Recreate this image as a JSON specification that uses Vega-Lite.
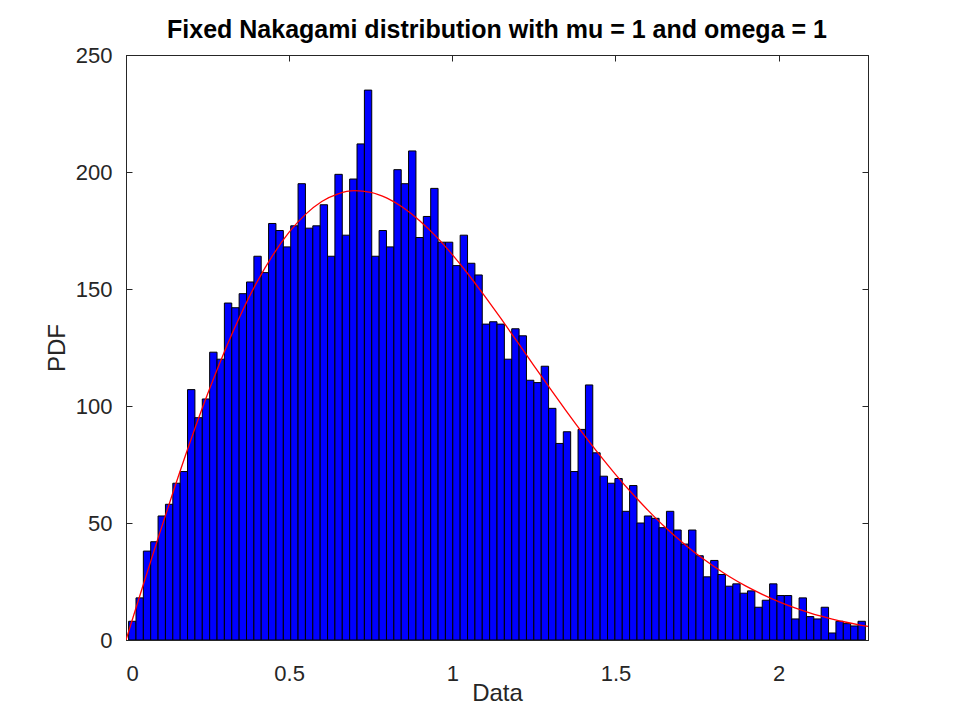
{
  "$schema": "https://vega.github.io/schema/vega-lite/v6.json",
  "background": "white",
  "autosize": "none",
  "padding": {"left": 126, "top": 55, "right": 92, "bottom": 80},
  "width": 742,
  "height": 585,
  "title": {
    "text": "Fixed Nakagami distribution with mu = 1 and omega = 1",
    "font": "Liberation Sans",
    "fontSize": 25,
    "fontWeight": "bold",
    "color": "#000000",
    "anchor": "middle",
    "baseline": "alphabetic",
    "offset": -19
  },
  "config": {
    "view": {"stroke": "#262626", "strokeWidth": 1},
    "axis": {
      "grid": false,
      "labelFont": "Liberation Sans",
      "labelFontSize": 22,
      "labelColor": "#262626",
      "titleFont": "Liberation Sans",
      "titleFontSize": 24,
      "titleFontWeight": "normal",
      "titleColor": "#262626",
      "domainColor": "#262626",
      "tickColor": "#262626",
      "tickSize": -6
    }
  },
  "datasets": {
    "bins": [
      {"x0": 0.0080, "x1": 0.0306, "count": 8},
      {"x0": 0.0306, "x1": 0.0532, "count": 18},
      {"x0": 0.0532, "x1": 0.0757, "count": 38},
      {"x0": 0.0757, "x1": 0.0983, "count": 42},
      {"x0": 0.0983, "x1": 0.1209, "count": 53},
      {"x0": 0.1209, "x1": 0.1435, "count": 58},
      {"x0": 0.1435, "x1": 0.1661, "count": 67},
      {"x0": 0.1661, "x1": 0.1886, "count": 72},
      {"x0": 0.1886, "x1": 0.2112, "count": 107},
      {"x0": 0.2112, "x1": 0.2338, "count": 95},
      {"x0": 0.2338, "x1": 0.2564, "count": 103},
      {"x0": 0.2564, "x1": 0.2790, "count": 123},
      {"x0": 0.2790, "x1": 0.3015, "count": 120},
      {"x0": 0.3015, "x1": 0.3241, "count": 144},
      {"x0": 0.3241, "x1": 0.3467, "count": 142},
      {"x0": 0.3467, "x1": 0.3693, "count": 148},
      {"x0": 0.3693, "x1": 0.3919, "count": 153},
      {"x0": 0.3919, "x1": 0.4144, "count": 164},
      {"x0": 0.4144, "x1": 0.4370, "count": 157},
      {"x0": 0.4370, "x1": 0.4596, "count": 178},
      {"x0": 0.4596, "x1": 0.4822, "count": 175},
      {"x0": 0.4822, "x1": 0.5048, "count": 168},
      {"x0": 0.5048, "x1": 0.5273, "count": 177},
      {"x0": 0.5273, "x1": 0.5499, "count": 195},
      {"x0": 0.5499, "x1": 0.5725, "count": 176},
      {"x0": 0.5725, "x1": 0.5951, "count": 177},
      {"x0": 0.5951, "x1": 0.6177, "count": 186},
      {"x0": 0.6177, "x1": 0.6402, "count": 164},
      {"x0": 0.6402, "x1": 0.6628, "count": 199},
      {"x0": 0.6628, "x1": 0.6854, "count": 173},
      {"x0": 0.6854, "x1": 0.7080, "count": 197},
      {"x0": 0.7080, "x1": 0.7306, "count": 212},
      {"x0": 0.7306, "x1": 0.7531, "count": 235},
      {"x0": 0.7531, "x1": 0.7757, "count": 164},
      {"x0": 0.7757, "x1": 0.7983, "count": 175},
      {"x0": 0.7983, "x1": 0.8209, "count": 168},
      {"x0": 0.8209, "x1": 0.8435, "count": 201},
      {"x0": 0.8435, "x1": 0.8660, "count": 195},
      {"x0": 0.8660, "x1": 0.8886, "count": 209},
      {"x0": 0.8886, "x1": 0.9112, "count": 172},
      {"x0": 0.9112, "x1": 0.9338, "count": 181},
      {"x0": 0.9338, "x1": 0.9564, "count": 193},
      {"x0": 0.9564, "x1": 0.9789, "count": 170},
      {"x0": 0.9789, "x1": 1.0015, "count": 170},
      {"x0": 1.0015, "x1": 1.0241, "count": 160},
      {"x0": 1.0241, "x1": 1.0467, "count": 173},
      {"x0": 1.0467, "x1": 1.0693, "count": 161},
      {"x0": 1.0693, "x1": 1.0918, "count": 156},
      {"x0": 1.0918, "x1": 1.1144, "count": 135},
      {"x0": 1.1144, "x1": 1.1370, "count": 136},
      {"x0": 1.1370, "x1": 1.1596, "count": 135},
      {"x0": 1.1596, "x1": 1.1822, "count": 120},
      {"x0": 1.1822, "x1": 1.2047, "count": 133},
      {"x0": 1.2047, "x1": 1.2273, "count": 130},
      {"x0": 1.2273, "x1": 1.2499, "count": 111},
      {"x0": 1.2499, "x1": 1.2725, "count": 110},
      {"x0": 1.2725, "x1": 1.2951, "count": 117},
      {"x0": 1.2951, "x1": 1.3176, "count": 99},
      {"x0": 1.3176, "x1": 1.3402, "count": 84},
      {"x0": 1.3402, "x1": 1.3628, "count": 89},
      {"x0": 1.3628, "x1": 1.3854, "count": 72},
      {"x0": 1.3854, "x1": 1.4080, "count": 90},
      {"x0": 1.4080, "x1": 1.4305, "count": 109},
      {"x0": 1.4305, "x1": 1.4531, "count": 80},
      {"x0": 1.4531, "x1": 1.4757, "count": 70},
      {"x0": 1.4757, "x1": 1.4983, "count": 67},
      {"x0": 1.4983, "x1": 1.5209, "count": 69},
      {"x0": 1.5209, "x1": 1.5434, "count": 55},
      {"x0": 1.5434, "x1": 1.5660, "count": 66},
      {"x0": 1.5660, "x1": 1.5886, "count": 50},
      {"x0": 1.5886, "x1": 1.6112, "count": 53},
      {"x0": 1.6112, "x1": 1.6338, "count": 52},
      {"x0": 1.6338, "x1": 1.6563, "count": 48},
      {"x0": 1.6563, "x1": 1.6789, "count": 55},
      {"x0": 1.6789, "x1": 1.7015, "count": 47},
      {"x0": 1.7015, "x1": 1.7241, "count": 41},
      {"x0": 1.7241, "x1": 1.7467, "count": 47},
      {"x0": 1.7467, "x1": 1.7692, "count": 36},
      {"x0": 1.7692, "x1": 1.7918, "count": 27},
      {"x0": 1.7918, "x1": 1.8144, "count": 34},
      {"x0": 1.8144, "x1": 1.8370, "count": 28},
      {"x0": 1.8370, "x1": 1.8596, "count": 23},
      {"x0": 1.8596, "x1": 1.8821, "count": 24},
      {"x0": 1.8821, "x1": 1.9047, "count": 20},
      {"x0": 1.9047, "x1": 1.9273, "count": 21},
      {"x0": 1.9273, "x1": 1.9499, "count": 14},
      {"x0": 1.9499, "x1": 1.9725, "count": 17},
      {"x0": 1.9725, "x1": 1.9950, "count": 24},
      {"x0": 1.9950, "x1": 2.0176, "count": 19},
      {"x0": 2.0176, "x1": 2.0402, "count": 19},
      {"x0": 2.0402, "x1": 2.0628, "count": 9},
      {"x0": 2.0628, "x1": 2.0854, "count": 18},
      {"x0": 2.0854, "x1": 2.1079, "count": 10},
      {"x0": 2.1079, "x1": 2.1305, "count": 9},
      {"x0": 2.1305, "x1": 2.1531, "count": 14},
      {"x0": 2.1531, "x1": 2.1757, "count": 3},
      {"x0": 2.1757, "x1": 2.1983, "count": 8},
      {"x0": 2.1983, "x1": 2.2208, "count": 7},
      {"x0": 2.2208, "x1": 2.2434, "count": 6},
      {"x0": 2.2434, "x1": 2.2660, "count": 8}
    ],
    "fit": [
      {"x": 0.00, "pdf": 0.0},
      {"x": 0.05, "pdf": 22.3},
      {"x": 0.10, "pdf": 44.3},
      {"x": 0.15, "pdf": 65.6},
      {"x": 0.20, "pdf": 86.0},
      {"x": 0.25, "pdf": 105.1},
      {"x": 0.30, "pdf": 122.7},
      {"x": 0.35, "pdf": 138.6},
      {"x": 0.40, "pdf": 152.6},
      {"x": 0.45, "pdf": 164.5},
      {"x": 0.50, "pdf": 174.3},
      {"x": 0.55, "pdf": 181.9},
      {"x": 0.60, "pdf": 187.4},
      {"x": 0.65, "pdf": 190.7},
      {"x": 0.70, "pdf": 192.0},
      {"x": 0.75, "pdf": 191.3},
      {"x": 0.80, "pdf": 188.8},
      {"x": 0.85, "pdf": 184.7},
      {"x": 0.90, "pdf": 179.2},
      {"x": 0.95, "pdf": 172.5},
      {"x": 1.00, "pdf": 164.7},
      {"x": 1.05, "pdf": 156.1},
      {"x": 1.10, "pdf": 146.8},
      {"x": 1.15, "pdf": 137.2},
      {"x": 1.20, "pdf": 127.3},
      {"x": 1.25, "pdf": 117.3},
      {"x": 1.30, "pdf": 107.4},
      {"x": 1.35, "pdf": 97.7},
      {"x": 1.40, "pdf": 88.3},
      {"x": 1.45, "pdf": 79.3},
      {"x": 1.50, "pdf": 70.8},
      {"x": 1.55, "pdf": 62.8},
      {"x": 1.60, "pdf": 55.4},
      {"x": 1.65, "pdf": 48.5},
      {"x": 1.70, "pdf": 42.3},
      {"x": 1.75, "pdf": 36.6},
      {"x": 1.80, "pdf": 31.6},
      {"x": 1.85, "pdf": 27.0},
      {"x": 1.90, "pdf": 23.0},
      {"x": 1.95, "pdf": 19.5},
      {"x": 2.00, "pdf": 16.4},
      {"x": 2.05, "pdf": 13.7},
      {"x": 2.10, "pdf": 11.4},
      {"x": 2.15, "pdf": 9.5},
      {"x": 2.20, "pdf": 7.8},
      {"x": 2.25, "pdf": 6.4},
      {"x": 2.274, "pdf": 5.8}
    ]
  },
  "layer": [
    {
      "data": {"name": "bins"},
      "mark": {"type": "rect", "fill": "#0000ff", "stroke": "#000000", "strokeWidth": 1, "clip": true},
      "encoding": {
        "x": {
          "field": "x0",
          "type": "quantitative",
          "scale": {"domain": [0, 2.274], "nice": false, "zero": false},
          "axis": {"orient": "bottom", "title": "Data", "values": [0, 0.5, 1, 1.5, 2], "format": "~g", "labelPadding": 29, "titlePadding": -3}
        },
        "x2": {"field": "x1"},
        "y": {
          "field": "count",
          "type": "quantitative",
          "scale": {"domain": [0, 250], "nice": false},
          "axis": {"orient": "left", "title": "PDF", "values": [0, 50, 100, 150, 200, 250], "labelPadding": 20, "titlePadding": 6}
        },
        "y2": {"datum": 0}
      }
    },
    {
      "data": {"name": "fit"},
      "mark": {"type": "line", "color": "#ff0000", "strokeWidth": 1.3, "interpolate": "monotone", "clip": true},
      "encoding": {
        "x": {
          "field": "x",
          "type": "quantitative",
          "scale": {"domain": [0, 2.274], "nice": false, "zero": false},
          "axis": {"orient": "top", "title": null, "labels": false, "values": [0, 0.5, 1, 1.5, 2]}
        },
        "y": {
          "field": "pdf",
          "type": "quantitative",
          "scale": {"domain": [0, 250], "nice": false},
          "axis": {"orient": "right", "title": null, "labels": false, "values": [0, 50, 100, 150, 200, 250]}
        }
      }
    }
  ],
  "resolve": {"axis": {"x": "independent", "y": "independent"}}
}
